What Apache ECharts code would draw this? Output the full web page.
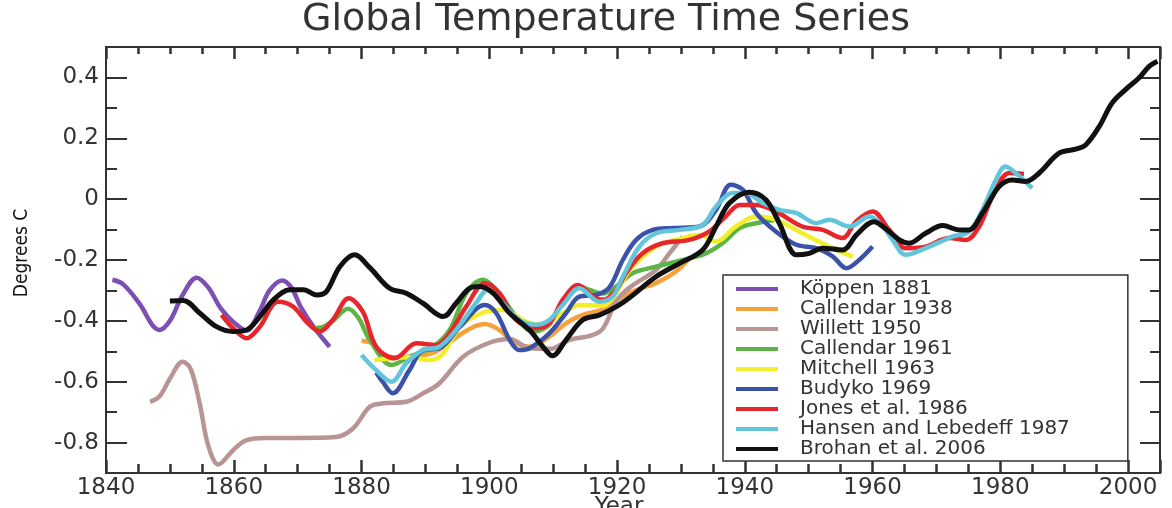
<!DOCTYPE html>
<html>
<head>
<meta charset="utf-8">
<title>Global Temperature Time Series</title>
<script src="https://cdn.jsdelivr.net/npm/echarts@6/dist/echarts.min.js"></script>
<style>
  html, body { margin: 0; padding: 0; background: #fff; }
  #chart { width: 1172px; height: 508px; }
</style>
</head>
<body>
<div id="chart"></div>
<script>
// [year, degrees C]
const koppen1881 = [[1841,-0.265],[1842.7,-0.28],[1845.3,-0.345],[1847.3,-0.415],[1848.4,-0.43],[1850,-0.4],[1852,-0.315],[1854.2,-0.258],[1856,-0.29],[1858,-0.36],[1860,-0.405],[1862,-0.432],[1864,-0.37],[1865.6,-0.3],[1867.6,-0.267],[1869,-0.29],[1870.5,-0.355],[1872.5,-0.42],[1875,-0.485]]
const callendar1938 = [[1880,-0.465],[1881.8,-0.475],[1883.5,-0.515],[1886,-0.52],[1888.5,-0.515],[1891.2,-0.505],[1893.5,-0.475],[1895.4,-0.446],[1897.5,-0.42],[1899.3,-0.41],[1901.6,-0.43],[1903.7,-0.468],[1906.3,-0.485],[1909.4,-0.452],[1912,-0.408],[1914.6,-0.38],[1917.8,-0.362],[1920.9,-0.32],[1923.5,-0.295],[1926.1,-0.276],[1929.2,-0.238],[1931.5,-0.19]]
const willett1950 = [[1846.9,-0.666],[1848.4,-0.648],[1850,-0.59],[1852,-0.534],[1853.3,-0.56],[1854.7,-0.675],[1856,-0.81],[1857.6,-0.872],[1859.9,-0.825],[1862,-0.792],[1865,-0.785],[1870,-0.785],[1876,-0.782],[1878.7,-0.753],[1881.3,-0.682],[1883.4,-0.671],[1887,-0.666],[1889.5,-0.64],[1892.2,-0.605],[1895.9,-0.518],[1900,-0.472],[1903.2,-0.46],[1906.3,-0.49],[1909.5,-0.492],[1912.5,-0.463],[1916,-0.448],[1917.8,-0.425],[1919.9,-0.335],[1922,-0.29],[1926.1,-0.233],[1928.2,-0.178],[1930.3,-0.123]]
const callendar1961 = [[1872.4,-0.424],[1874,-0.42],[1875.5,-0.4],[1877.9,-0.36],[1879.5,-0.39],[1881.3,-0.463],[1884.7,-0.545],[1887.5,-0.518],[1891.2,-0.485],[1893.8,-0.43],[1896.4,-0.309],[1899,-0.265],[1901.1,-0.298],[1904.2,-0.386],[1906.8,-0.435],[1909.4,-0.413],[1912,-0.32],[1914.1,-0.287],[1915.7,-0.298],[1917.8,-0.31],[1919.9,-0.287],[1922.5,-0.243],[1926.1,-0.222],[1930.3,-0.2],[1933.9,-0.178],[1936.5,-0.145],[1939.2,-0.095],[1941.8,-0.079],[1945.5,-0.065]]
const mitchell1963 = [[1882,-0.529],[1884.9,-0.523],[1887.5,-0.52],[1890.7,-0.529],[1892.8,-0.507],[1895.4,-0.419],[1899.5,-0.37],[1902.1,-0.364],[1905.8,-0.403],[1908.4,-0.413],[1911.5,-0.375],[1914.1,-0.348],[1917.8,-0.35],[1919.5,-0.32],[1922,-0.233],[1926.1,-0.156],[1930.3,-0.128],[1932.9,-0.117],[1935.5,-0.139],[1938.6,-0.09],[1941.8,-0.057],[1944.9,-0.068],[1949,-0.112],[1953.2,-0.156],[1956.9,-0.189]]
const budyko1969 = [[1882.3,-0.57],[1883.3,-0.6],[1884.9,-0.638],[1887.5,-0.562],[1889.6,-0.496],[1892.2,-0.49],[1895.4,-0.419],[1899.3,-0.348],[1901.1,-0.375],[1903.2,-0.463],[1904.7,-0.496],[1906.3,-0.49],[1909.4,-0.441],[1912,-0.375],[1914.1,-0.32],[1916.7,-0.315],[1918.8,-0.29],[1920.9,-0.2],[1923,-0.134],[1925.6,-0.101],[1928.8,-0.095],[1932.9,-0.09],[1935.5,-0.035],[1937.8,0.047],[1939.7,0.031],[1941.8,-0.046],[1944.9,-0.107],[1948.1,-0.15],[1951.2,-0.161],[1953.8,-0.189],[1955.9,-0.227],[1957.9,-0.2],[1960,-0.156]]
const jones1986 = [[1858.1,-0.38],[1859.9,-0.424],[1862,-0.457],[1864.1,-0.419],[1866.9,-0.337],[1869.3,-0.353],[1871.4,-0.403],[1873.5,-0.435],[1875.5,-0.397],[1878,-0.326],[1880.2,-0.37],[1882.3,-0.485],[1885.2,-0.523],[1888.6,-0.474],[1891.7,-0.479],[1893.8,-0.441],[1896.4,-0.353],[1899.3,-0.276],[1901.6,-0.309],[1904.2,-0.397],[1907.3,-0.424],[1909.4,-0.408],[1911.5,-0.331],[1913.9,-0.282],[1916.2,-0.32],[1917.8,-0.331],[1919.9,-0.298],[1921.4,-0.243],[1924,-0.178],[1927.1,-0.145],[1931.3,-0.134],[1934.4,-0.107],[1937,-0.057],[1939.2,-0.019],[1941.8,-0.019],[1944.9,-0.041],[1949,-0.09],[1952.2,-0.101],[1955.3,-0.128],[1957.4,-0.074],[1960,-0.041],[1962.6,-0.101],[1965.2,-0.161],[1968.3,-0.156],[1972,-0.128],[1974.6,-0.134],[1976.7,-0.09],[1978.8,0.009],[1981.4,0.086],[1983.7,0.083]]
const hansen1987 = [[1880,-0.512],[1882.3,-0.562],[1884.7,-0.6],[1887,-0.54],[1889.6,-0.496],[1892.2,-0.485],[1894.8,-0.43],[1897.9,-0.342],[1899.8,-0.298],[1902.1,-0.342],[1904.7,-0.397],[1907.3,-0.413],[1909.4,-0.397],[1911.5,-0.348],[1914.1,-0.293],[1917.2,-0.337],[1919.3,-0.32],[1920.9,-0.255],[1923.5,-0.156],[1926.1,-0.112],[1929.8,-0.101],[1933.4,-0.085],[1935.5,-0.024],[1938.1,0.02],[1940.2,0.02],[1942.8,-0.013],[1945.4,-0.035],[1948.1,-0.046],[1951.2,-0.079],[1953.2,-0.068],[1956.4,-0.09],[1959.5,-0.057],[1961.6,-0.09],[1963,-0.13],[1965.2,-0.183],[1968.3,-0.161],[1972.5,-0.123],[1975.1,-0.107],[1977.2,-0.035],[1979.3,0.063],[1980.8,0.107],[1982.4,0.086],[1985,0.036]]
const brohan2006 = [[1850,-0.335],[1852.1,-0.333],[1854.7,-0.375],[1857.3,-0.419],[1859.9,-0.435],[1862,-0.43],[1864.1,-0.386],[1866.2,-0.331],[1868.8,-0.298],[1870.9,-0.298],[1873,-0.315],[1874.5,-0.304],[1876.6,-0.222],[1878.9,-0.183],[1881.3,-0.225],[1884.4,-0.293],[1887,-0.309],[1889.6,-0.342],[1892.8,-0.386],[1894.8,-0.342],[1896.9,-0.293],[1898.5,-0.287],[1900.6,-0.309],[1903.2,-0.375],[1906.3,-0.43],[1908.4,-0.485],[1909.9,-0.515],[1912,-0.463],[1914.6,-0.397],[1917.2,-0.381],[1919.9,-0.353],[1922,-0.323],[1926.1,-0.255],[1929.8,-0.211],[1933.4,-0.167],[1935.5,-0.09],[1937.6,-0.013],[1940.7,0.023],[1943.3,-0.002],[1945.4,-0.079],[1948.1,-0.183],[1950.1,-0.178],[1952.2,-0.161],[1955.3,-0.167],[1957.6,-0.115],[1960.2,-0.074],[1962.1,-0.098],[1964.2,-0.134],[1965.7,-0.145],[1968.3,-0.112],[1971,-0.087],[1973.6,-0.101],[1975.1,-0.101],[1977.2,-0.046],[1979.8,0.041],[1981.9,0.063],[1984,0.058],[1986.1,0.086],[1989.2,0.151],[1991.8,0.164],[1993.4,0.179],[1995.5,0.239],[1997.5,0.316],[1999.6,0.36],[2001.7,0.398],[2003.3,0.436],[2004.6,0.453]]

const seriesNames = ['Köppen 1881', 'Callendar 1938', 'Willett 1950', 'Callendar 1961', 'Mitchell 1963', 'Budyko 1969', 'Jones et al. 1986', 'Hansen and Lebedeff 1987', 'Brohan et al. 2006']
const seriesData = [koppen1881, callendar1938, willett1950, callendar1961, mitchell1963, budyko1969, jones1986, hansen1987, brohan2006]

const xRange = [1840, 2005]
const yRange = [-0.9, 0.5]
const yLabelRange = [-0.8, 0.4]

// styling
const colors = ['#7d4fb2', '#f5a23c', '#b99494', '#5bb445', '#f2ee2c', '#3a52a8', '#e7262b', '#63c5dc', '#111111']
const INK = '#333'
const FONT = 'DejaVu Sans'

const chart = echarts.init(document.getElementById('chart'))

// plot box: 106..1160 x 47..473; the second grid only carries the labelled y ticks
const plot = { left: 106, right: 12, top: 47, bottom: 35, outerBoundsMode: 'none' }
const pxPerTenth = (473 - 47) / ((yRange[1] - yRange[0]) * 10)
const labelGrid = {
  left: plot.left,
  right: plot.right,
  top: plot.top + pxPerTenth * (yRange[1] - yLabelRange[1]) * 10,
  bottom: plot.bottom + pxPerTenth * (yLabelRange[0] - yRange[0]) * 10,
  outerBoundsMode: 'none',
}

function xAxis(position, interval, len, extra) {
  return Object.assign({
    type: 'value', gridIndex: 0, position, min: xRange[0], max: xRange[1], interval,
    axisLine: { show: true, onZero: false, lineStyle: { color: INK, width: 2 } },
    axisTick: { inside: true, length: len, lineStyle: { color: INK, width: 2.5 } },
    axisLabel: { show: false },
    splitLine: { show: false },
  }, extra)
}

function yAxis(grid, position, range, interval, len, extra) {
  return Object.assign({
    type: 'value', gridIndex: grid, position, min: range[0], max: range[1], interval,
    axisLine: { show: grid === 0, onZero: false, lineStyle: { color: INK, width: 2 } },
    axisTick: { inside: true, length: len, lineStyle: { color: INK, width: 2 } },
    axisLabel: { show: false },
    splitLine: { show: false },
  }, extra)
}

const option = {
  animation: false,
  backgroundColor: '#fff',
  title: {
    text: 'Global Temperature Time Series',
    left: 302, top: 1, padding: 0,
    textStyle: { fontFamily: FONT, fontSize: 38, fontWeight: 'normal', color: INK },
  },
  legend: {
    data: seriesNames,
    orient: 'vertical',
    left: 723, top: 275,
    padding: [4, 58, 2, 13],
    itemGap: 0,
    itemWidth: 42, itemHeight: 4,
    icon: 'rect',
    borderColor: INK, borderWidth: 1.5,
    backgroundColor: '#fff',
    selectedMode: false,
    textStyle: { fontFamily: FONT, fontSize: 20, lineHeight: 19, color: INK, padding: [0, 0, 0, 17] },
  },
  grid: [
    Object.assign({}, plot),
    labelGrid,
  ],
  xAxis: [
    xAxis('bottom', 5, 9, {
      name: 'Year', nameLocation: 'middle', nameGap: 23, nameMoveOverlap: false,
      nameTextStyle: { fontFamily: FONT, fontSize: 23, color: INK, padding: [0, 28, 0, 0] },
      axisLabel: {
        show: true, margin: 4, color: INK, fontFamily: FONT, fontSize: 23,
        formatter: (v) => (v % 20 === 0 ? String(v) : ''),
      },
    }),
    xAxis('bottom', 20, 13),
    xAxis('top', 5, 7),
    xAxis('top', 20, 12),
    { type: 'value', gridIndex: 1, min: xRange[0], max: xRange[1], show: false },
  ],
  yAxis: [
    yAxis(0, 'left', yRange, 0.1, 11),
    yAxis(0, 'right', yRange, 0.1, 10),
    yAxis(1, 'left', yLabelRange, 0.2, 21, {
      name: 'Degrees C', nameLocation: 'middle', nameRotate: 90, nameGap: 74, nameMoveOverlap: false,
      nameTextStyle: {
        fontFamily: "'Liberation Sans Narrow', 'DejaVu Sans Condensed', 'Liberation Sans', sans-serif",
        fontSize: 19, color: '#111', padding: [0, 0, 0, 14],
      },
      axisLabel: { show: true, margin: 7, color: INK, fontFamily: FONT, fontSize: 23 },
    }),
    yAxis(1, 'right', yLabelRange, 0.2, 20),
  ],
  series: seriesNames.map((name, i) => ({
    name,
    type: 'line',
    xAxisIndex: 0,
    yAxisIndex: 0,
    data: seriesData[i],
    smooth: 0.35,
    showSymbol: false,
    symbol: 'none',
    color: colors[i],
    lineStyle: { color: colors[i], width: i === 8 ? 5 : 4.5 },
    z: 2 + i,
  })),
}

chart.setOption(option)
</script>
</body>
</html>
